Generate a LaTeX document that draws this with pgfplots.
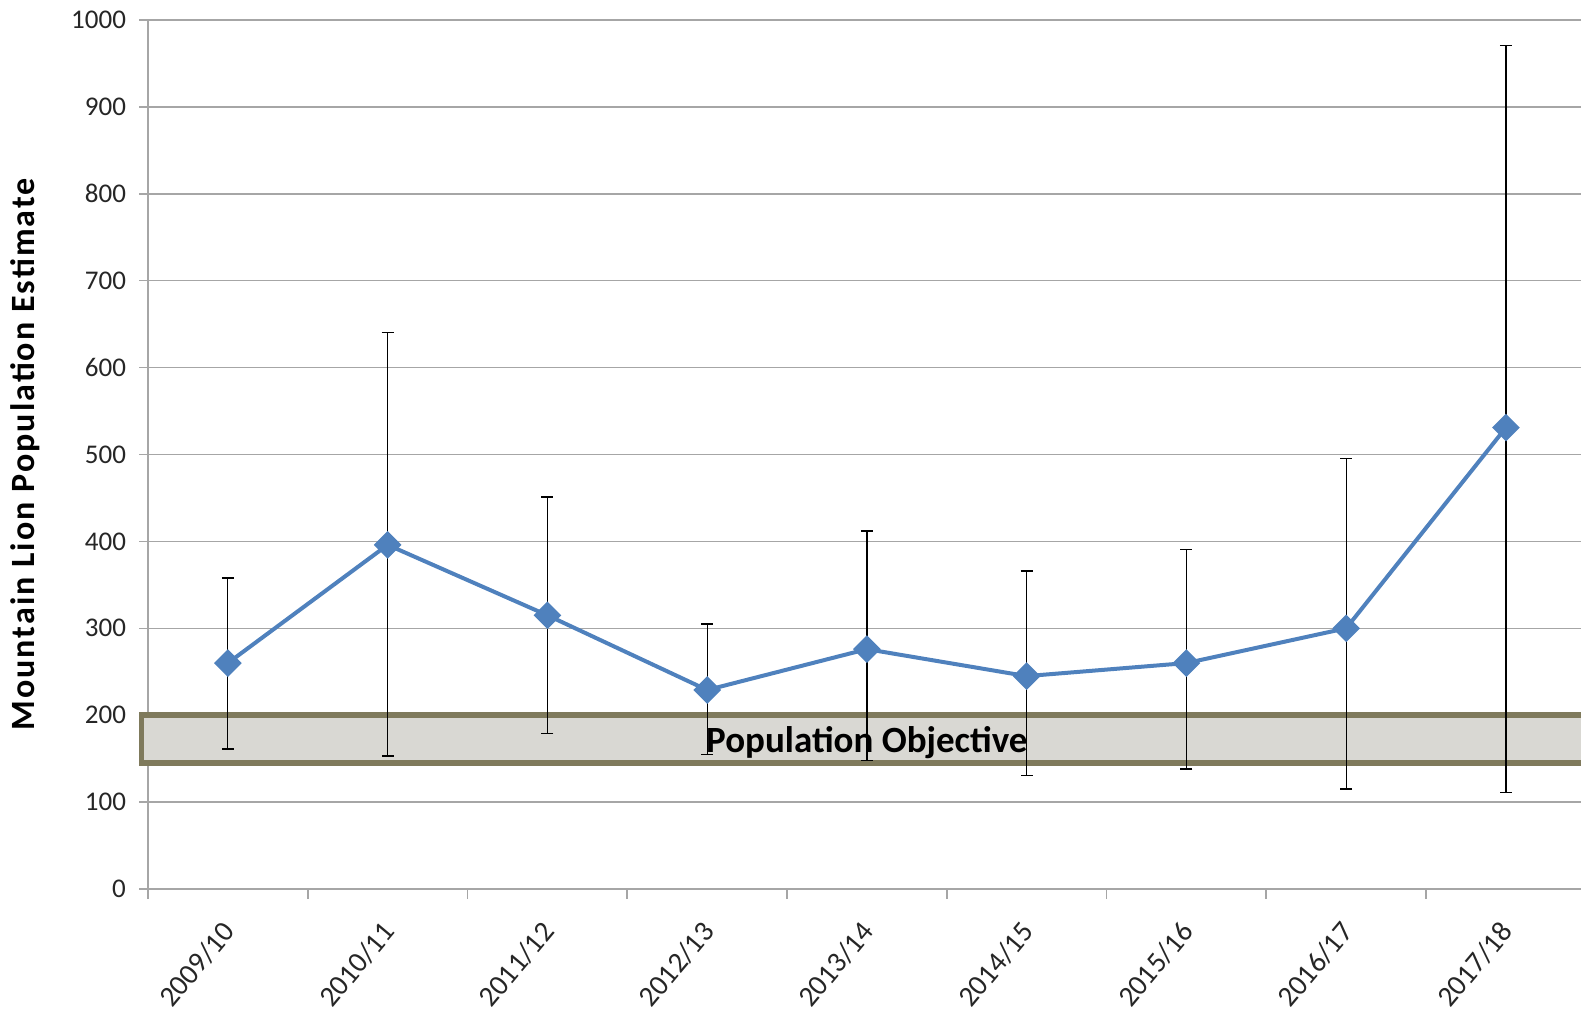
\documentclass[border=0pt]{standalone}
\usepackage{pgfplots}
\pgfplotsset{compat=1.18}
\usepackage{fontspec}
\setmainfont{Carlito}
\definecolor{lineblue}{HTML}{4F81BD}
\definecolor{gridgray}{HTML}{A6A6A6}
\definecolor{bandfill}{HTML}{D9D8D3}
\definecolor{banddraw}{HTML}{7F7A5C}
\begin{document}
\begin{tikzpicture}
\begin{axis}[
  scale only axis,
  width=716.5pt, height=434.5pt,
  xmin=-0.5, xmax=8.47,
  ymin=0, ymax=1000,
  ytick={0,100,...,1000},
  xtick={0,...,8},
  xticklabels={2009/10,2010/11,2011/12,2012/13,2013/14,2014/15,2015/16,2016/17,2017/18},
  minor xtick={-0.5,0.5,...,8.5},
  major x tick style={draw=none},
  minor x tick style={draw=gridgray, line width=0.8pt},
  minor tick length=5pt,
  major tick length=4.5pt,
  tick align=outside,
  ytick style={draw=gridgray, line width=0.8pt},
  axis x line*=bottom, axis y line*=left,
  axis line style={draw=gridgray, line width=0.8pt},
  ymajorgrids, grid style={draw=gridgray, line width=0.8pt},
  clip=false,
  /pgf/number format/assume math mode=true,
  /pgf/number format/set thousands separator={},
  tick label style={font=\fontsize{13.5}{15}\selectfont, text=black!85},
  yticklabel style={xshift=-3pt},
  xticklabel style={inner sep=0pt, anchor=north east, xshift=-3.5pt, yshift=-10.5pt, rotate=50, font=\fontsize{14.5}{16}\selectfont},
  ylabel={Mountain Lion Population Estimate},
  ylabel style={at={(axis description cs:0,0.5)}, anchor=center, yshift=61.5pt, font=\fontsize{17}{19}\bfseries\addfontfeature{LetterSpace=6}\selectfont},
]
\addplot[fill=bandfill, draw=banddraw, line width=2.8pt] coordinates {(-0.54,145) (8.6,145) (8.6,200) (-0.54,200)} --cycle;
\node[font=\fontsize{18.5}{20}\bfseries\selectfont] at (axis cs:4,169) {Population Objective};
\addplot[color=lineblue, line width=2pt, mark=square*, mark size=3.9pt,
  mark options={rotate=45, fill=lineblue, draw=lineblue},
  error bars/.cd, y dir=both, y explicit,
  error bar style={black, line width=0.6pt},
  error mark options={black, rotate=90, mark size=3pt, line width=0.6pt}]
  table[x=x, y=y, y error plus=ep, y error minus=em] {
x y ep em
0 260 98 99
1 396 244 243
2 315 136 136
3 229 76 74
4 276 136 128
5 245 121 114
6 260 131 122
7 300 195 185
8 531 440 420
};
\end{axis}
\pgfresetboundingbox
\path ([xshift=-74pt,yshift=-61.5pt]current axis.south west) rectangle ([yshift=10pt]current axis.north east);
\end{tikzpicture}
\end{document}
